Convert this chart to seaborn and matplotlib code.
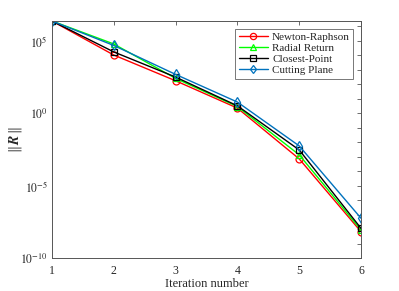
import matplotlib
matplotlib.use("Agg")
import matplotlib.pyplot as plt
import seaborn as sns
import numpy as np
import pandas as pd
from matplotlib.ticker import FixedLocator, FuncFormatter, NullLocator

iterations = [1, 2, 3, 4, 5, 6]
newton_raphson = [2.4e6, 1.07e4, 1.78e2, 2.3e0, 7.1e-4, 6.6e-9]
radial_return = [2.4e6, 6.2e4, 2.6e2, 2.95e0, 1.35e-3, 8.7e-9]
closest_point = [2.4e6, 1.75e4, 3.2e2, 3.3e0, 2.95e-3, 1.12e-8]
cutting_plane = [2.4e6, 4.9e4, 4.9e2, 6.0e0, 5.6e-3, 5.6e-8]

series_names = ["Newton-Raphson", "Radial Return", "Closest-Point", "Cutting Plane"]
series_values = [newton_raphson, radial_return, closest_point, cutting_plane]
colors = ["#ff0000", "#00ff00", "#000000", "#0072bd"]
markers = ["o", "^", "s", "d"]

sns.set_theme(style="white")
plt.rcParams["font.family"] = ["Liberation Serif", "DejaVu Serif"]
plt.rcParams["mathtext.fontset"] = "stix"

fig = plt.figure(figsize=(3.99, 2.91), dpi=100)
ax = fig.add_axes([0.130, 0.113, 0.775, 0.815])

for name, vals, c, m in zip(series_names, series_values, colors, markers):
    df = pd.DataFrame({"it": iterations, "R": vals})
    sns.lineplot(data=df, x="it", y="R", ax=ax, color=c, marker=m, label=name,
                 linewidth=1.0, markersize=5)

for line, c in zip(ax.lines, colors):
    line.set_markerfacecolor("none")
    line.set_markeredgecolor(c)
    line.set_markeredgewidth(0.9)

ax.set_yscale("log")
ax.set_xlim(1, 6)
ax.set_ylim(1e-10, 2.4e6)
ax.set_xticks(iterations)
ax.xaxis.set_minor_locator(NullLocator())
ax.yaxis.set_major_locator(FixedLocator([10.0**k for k in range(-10, 7)]))
ax.yaxis.set_minor_locator(NullLocator())

def fmt(v, pos):
    k = int(round(np.log10(v)))
    if k % 5 == 0:
        return r"$10^{%d}$" % k if k >= 0 else r"$10^{\mathrm{-}%d}$" % (-k)
    return ""

ax.yaxis.set_major_formatter(FuncFormatter(fmt))

axc = "#555555"
for s in ax.spines.values():
    s.set_visible(True)
    s.set_color(axc)
    s.set_linewidth(0.7)
ax.tick_params(axis="both", which="both", direction="in", length=3, width=0.6,
               color=axc, top=True, right=True, labelsize=8.5, labelcolor="#262626",
               pad=3)
ax.tick_params(axis="x", pad=5)

ax.set_xlabel("Iteration number", fontsize=9, color="#262626", labelpad=1)
ax.set_ylabel(r"$\|\,\boldsymbol{R}\,\|$", fontsize=10, color="#262626")
ax.yaxis.set_label_coords(-0.118, 0.5)
ax.yaxis.label.set_verticalalignment("center")

leg = ax.legend(loc="upper right", fontsize=8, frameon=True, fancybox=False,
                borderpad=0.3, labelspacing=0.12, handlelength=2.6, handletextpad=0.4,
                borderaxespad=0.7, markerscale=0.9)
leg.get_frame().set_edgecolor(axc)
leg.get_frame().set_linewidth(0.7)

fig.savefig("out.png", dpi=100)
